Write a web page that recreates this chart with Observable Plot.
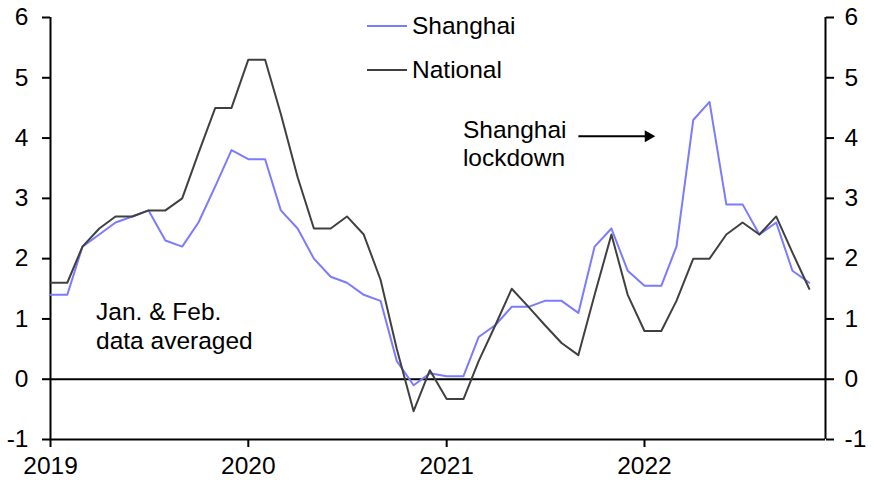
<!DOCTYPE html>
<html>
<head>
<meta charset="utf-8">
<script src="https://cdn.jsdelivr.net/npm/d3@7"></script>
<script src="https://cdn.jsdelivr.net/npm/@observablehq/plot@0.6"></script>
<style>
  html, body { margin: 0; padding: 0; background: #fff; }
  #wrap { position: relative; width: 874px; height: 482px; font-family: "Liberation Sans", Arial, sans-serif; }
  .leg { position: absolute; display: flex; align-items: center; height: 30px; font-size: 24.5px; color: #000; }
  .leg .sw { width: 40px; height: 2px; margin-right: 5px; }
</style>
</head>
<body>
<div id="wrap"></div>
<script>
// ---- data ----
const months = [
  "2019-01","2019-02","2019-03","2019-04","2019-05","2019-06","2019-07","2019-08","2019-09","2019-10","2019-11","2019-12",
  "2020-01","2020-02","2020-03","2020-04","2020-05","2020-06","2020-07","2020-08","2020-09","2020-10","2020-11","2020-12",
  "2021-01","2021-02","2021-03","2021-04","2021-05","2021-06","2021-07","2021-08","2021-09","2021-10","2021-11","2021-12",
  "2022-01","2022-02","2022-03","2022-04","2022-05","2022-06","2022-07","2022-08","2022-09","2022-10","2022-11"
];
const shanghai = [
  1.4, 1.4, 2.2, 2.4, 2.6, 2.7, 2.8, 2.3, 2.2, 2.6, 3.2, 3.8,
  3.65, 3.65, 2.8, 2.5, 2.0, 1.7, 1.6, 1.4, 1.3, 0.3, -0.1, 0.1,
  0.05, 0.05, 0.7, 0.9, 1.2, 1.2, 1.3, 1.3, 1.1, 2.2, 2.5, 1.8,
  1.55, 1.55, 2.2, 4.3, 4.6, 2.9, 2.9, 2.4, 2.6, 1.8, 1.6
];
const national = [
  1.6, 1.6, 2.2, 2.5, 2.7, 2.7, 2.8, 2.8, 3.0, 3.75, 4.5, 4.5,
  5.3, 5.3, 4.4, 3.35, 2.5, 2.5, 2.7, 2.4, 1.65, 0.5, -0.53, 0.15,
  -0.33, -0.33, 0.3, 0.9, 1.5, 1.2, 0.9, 0.6, 0.4, 1.4, 2.4, 1.4,
  0.8, 0.8, 1.3, 2.0, 2.0, 2.4, 2.6, 2.4, 2.7, 2.1, 1.5
];
const seriesNames = ["Shanghai", "National"];
const seriesColors = ["#7b7bff", "#404040"];
const xStart = "2019-01";
const xEnd = "2022-12";
const xTickLabels = ["2019", "2020", "2021", "2022"];
const yTicks = [-1, 0, 1, 2, 3, 4, 5, 6];
const notes = [
  { date: "2019-03-26", value: 0.89, text: "Jan. & Feb.\ndata averaged" },
  { date: "2021-01-31", value: 3.92, text: "Shanghai\nlockdown" }
];
const arrowFrom = { date: "2021-09-01", value: 4.03 };
const arrowTo = { date: "2022-01-08", value: 4.03 };

// ---- build ----
const pm = d3.utcParse("%Y-%m");
const pd = d3.utcParse("%Y-%m-%d");
const rows = [];
months.forEach((m, i) => {
  rows.push({ date: pm(m), value: shanghai[i], series: seriesNames[0] });
});
months.forEach((m, i) => {
  rows.push({ date: pm(m), value: national[i], series: seriesNames[1] });
});
const xDomain = [pm(xStart), pm(xEnd)];
const xTicks = xTickLabels.map(y => d3.utcParse("%Y")(y));
const noteRows = notes.map(n => ({ ...n, date: pd(n.date) }));
const arrowRow = [{ x1: pd(arrowFrom.date), y1: arrowFrom.value, x2: pd(arrowTo.date), y2: arrowTo.value }];

const FS = 24.5;
const chart = Plot.plot({
  width: 874,
  height: 482,
  marginLeft: 50,
  marginRight: 49,
  marginTop: 17,
  marginBottom: 43,
  style: { fontFamily: "Liberation Sans, Arial, sans-serif", fontSize: FS + "px", color: "#000", background: "#fff", overflow: "visible" },
  x: { type: "utc", domain: xDomain },
  y: { domain: [yTicks[0], yTicks[yTicks.length - 1]] },
  color: { domain: seriesNames, range: seriesColors },
  marks: [
    Plot.ruleY([0], { stroke: "#000", strokeWidth: 2 }),
    Plot.ruleY([yTicks[0]], { stroke: "#000", strokeWidth: 2 }),
    Plot.ruleX(xDomain, { stroke: "#000", strokeWidth: 2 }),
    Plot.line(rows, { x: "date", y: "value", z: "series", stroke: "series", strokeWidth: 2 }),
    Plot.axisX({ ticks: xTicks, tickFormat: d3.utcFormat("%Y"), tickSize: 8, tickPadding: 9, strokeWidth: 2, fontSize: FS, label: null }),
    Plot.axisY({ anchor: "left", ticks: yTicks, tickFormat: d => String(d), tickSize: 8, tickPadding: 14, strokeWidth: 2, fontSize: FS, label: null }),
    Plot.axisY({ anchor: "right", ticks: yTicks, tickFormat: d => String(d), tickSize: 8, tickPadding: 11, strokeWidth: 2, fontSize: FS, label: null }),
    Plot.text(noteRows, { x: "date", y: "value", text: "text", textAnchor: "start", lineAnchor: "middle", lineHeight: 1.15, fontSize: FS, fill: "#000" }),
    Plot.link(arrowRow, { x1: "x1", y1: "y1", x2: "x2", y2: "y2", stroke: "#000", strokeWidth: 2 }),
    Plot.dot(arrowRow, { x: "x2", y: "y2", symbol: "triangle", r: 4.5, rotate: 90, fill: "#000", stroke: "none" })
  ]
});

const wrap = document.getElementById("wrap");
wrap.appendChild(chart);

// legend (inside plot area, top)
const legendPos = [{ left: 367, top: 11 }, { left: 367, top: 55 }];
seriesNames.forEach((name, i) => {
  const d = document.createElement("div");
  d.className = "leg";
  d.style.left = legendPos[i].left + "px";
  d.style.top = legendPos[i].top + "px";
  const sw = document.createElement("span");
  sw.className = "sw";
  sw.style.background = seriesColors[i];
  const t = document.createElement("span");
  t.textContent = name;
  d.appendChild(sw);
  d.appendChild(t);
  wrap.appendChild(d);
});
</script>
</body>
</html>
